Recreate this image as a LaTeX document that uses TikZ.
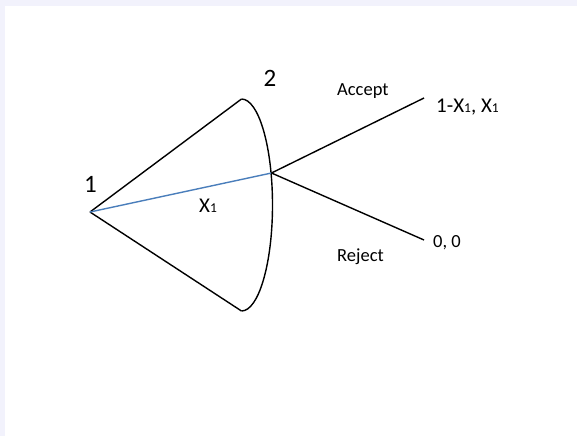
\documentclass[tikz,border=0pt]{standalone}
\usepackage{fontspec}
\setmainfont{Carlito}
\definecolor{bgband}{RGB}{242,242,252}
\definecolor{offerblue}{RGB}{74,126,187}
\begin{document}
\begin{tikzpicture}[x=1pt,y=-1pt,
  edge/.style={line width=1.4pt,black},
  offer/.style={line width=1.4pt,offerblue},
  big/.style={font=\fontsize{25}{30}\selectfont,inner sep=0pt},
  mid/.style={font=\fontsize{21}{25}\selectfont,inner sep=0pt,anchor=base west},
  lab/.style={font=\fontsize{18.5}{22}\selectfont,inner sep=0pt,anchor=base west}]
\useasboundingbox (0,0) rectangle (577,436);
\fill[bgband] (0,0) rectangle (577,436);
\fill[white] (5,6) rectangle (577,436);
\newcommand{\smallone}{{\fontsize{13.5}{15}\selectfont 1}}
\coordinate (v1) at (90,212);
\coordinate (top) at (241.5,99);
\coordinate (bot) at (241.5,311);
\coordinate (v2) at (271.5,173);
\coordinate (acc) at (424,98);
\coordinate (rej) at (424,240);
\draw[edge] (v1) -- (top);
\draw[edge] (v1) -- (bot);
\draw[edge] (top) .. controls (258.6,99) and (272.5,146.5) .. (272.5,205)
  .. controls (272.5,263.5) and (258.6,311) .. (bot);
\draw[offer] (v1) -- (v2);
\draw[edge] (v2) -- (acc);
\draw[edge] (v2) -- (rej);
\node[big] (n1) at (90.5,184) {1};
\node[big] (n2) at (270,78) {2};
\node[mid] (x1) at (199,212) {X\smallone};
\node[lab] (accept) at (337,95) {Accept};
\node[lab] (reject) at (337,261) {Reject};
\node[lab] (p00) at (433,247) {0, 0};
\node[mid] (p1) at (436,112) {1-X\smallone, X\smallone};
\end{tikzpicture}
\end{document}
